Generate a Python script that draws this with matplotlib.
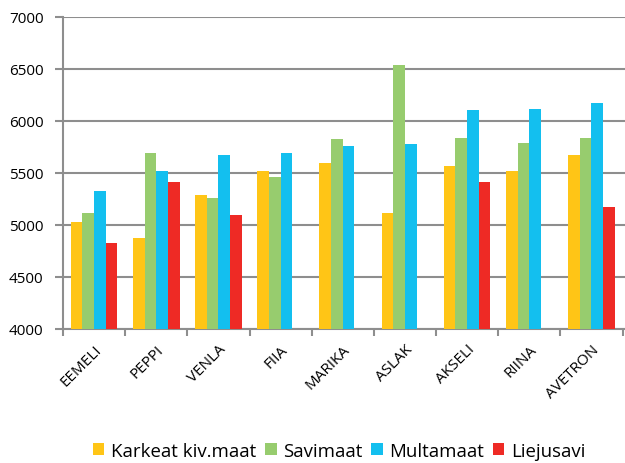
import numpy as np
import matplotlib
matplotlib.use("Agg")
import matplotlib.pyplot as plt
from matplotlib.patches import Patch

plt.rcParams['font.family'] = ['Open Sans', 'DejaVu Sans']

categories = ["EEMELI", "PEPPI", "VENLA", "FIIA", "MARIKA", "ASLAK", "AKSELI", "RIINA", "AVETRON"]
series_names = ["Karkeat kiv.maat", "Savimaat", "Multamaat", "Liejusavi"]
karkeat = [5030, 4875, 5290, 5515, 5600, 5120, 5565, 5515, 5670]
savimaat = [5120, 5690, 5260, 5465, 5825, 6535, 5840, 5790, 5840]
multamaat = [5330, 5515, 5670, 5690, 5755, 5775, 6105, 6120, 6170]
liejusavi = [4825, 5415, 5100, np.nan, np.nan, np.nan, 5415, np.nan, 5170]
colors = ["#FFC516", "#97CC6E", "#13BFEF", "#EE2A25"]
yticks = [4000, 4500, 5000, 5500, 6000, 6500, 7000]

fig = plt.figure(figsize=(6.25, 4.64), dpi=100)
ax = fig.add_axes([63/625, 134/464, 562/625, 312/464])

x = np.arange(len(categories))
w = 0.1875
data = [karkeat, savimaat, multamaat, liejusavi]
for i, (vals, c) in enumerate(zip(data, colors)):
    ax.bar(x + (i - 1.5) * w, vals, width=w, color=c, zorder=3)

ax.set_ylim(4000, 7000)
ax.set_xlim(-0.5, len(categories) - 0.5 + 0.04)
ax.set_yticks(yticks)
ax.set_yticklabels([str(v) for v in yticks], fontsize=11)
ax.yaxis.grid(True, color="#8E8E8E", linewidth=1.5, zorder=0)
ax.set_xticks(np.arange(len(categories) + 1) - 0.5)
ax.set_xticklabels([])
ax.set_xticks(x, minor=True)
ax.set_xticklabels(categories, minor=True, rotation=45, ha="right", rotation_mode="anchor", fontsize=11)
ax.tick_params(axis="x", which="minor", length=0, pad=9)
ax.tick_params(axis="x", which="major", length=5, width=1.5, color="#8E8E8E")
ax.tick_params(axis="y", length=6, width=1.5, color="#8E8E8E", pad=8)
for s in ["top", "right"]:
    ax.spines[s].set_visible(False)
for s in ["left", "bottom"]:
    ax.spines[s].set_color("#8E8E8E")
    ax.spines[s].set_linewidth(1.5)

handles = [Patch(facecolor=c, label=n) for c, n in zip(colors, series_names)]
fig.legend(handles=handles, loc="center", bbox_to_anchor=(339/625, 1 - 452/464), ncol=4,
           frameon=False, fontsize=13.4, handlelength=0.62, handleheight=0.62,
           handletextpad=0.34, columnspacing=0.48, borderpad=0)

fig.savefig("out.png", dpi=100)
